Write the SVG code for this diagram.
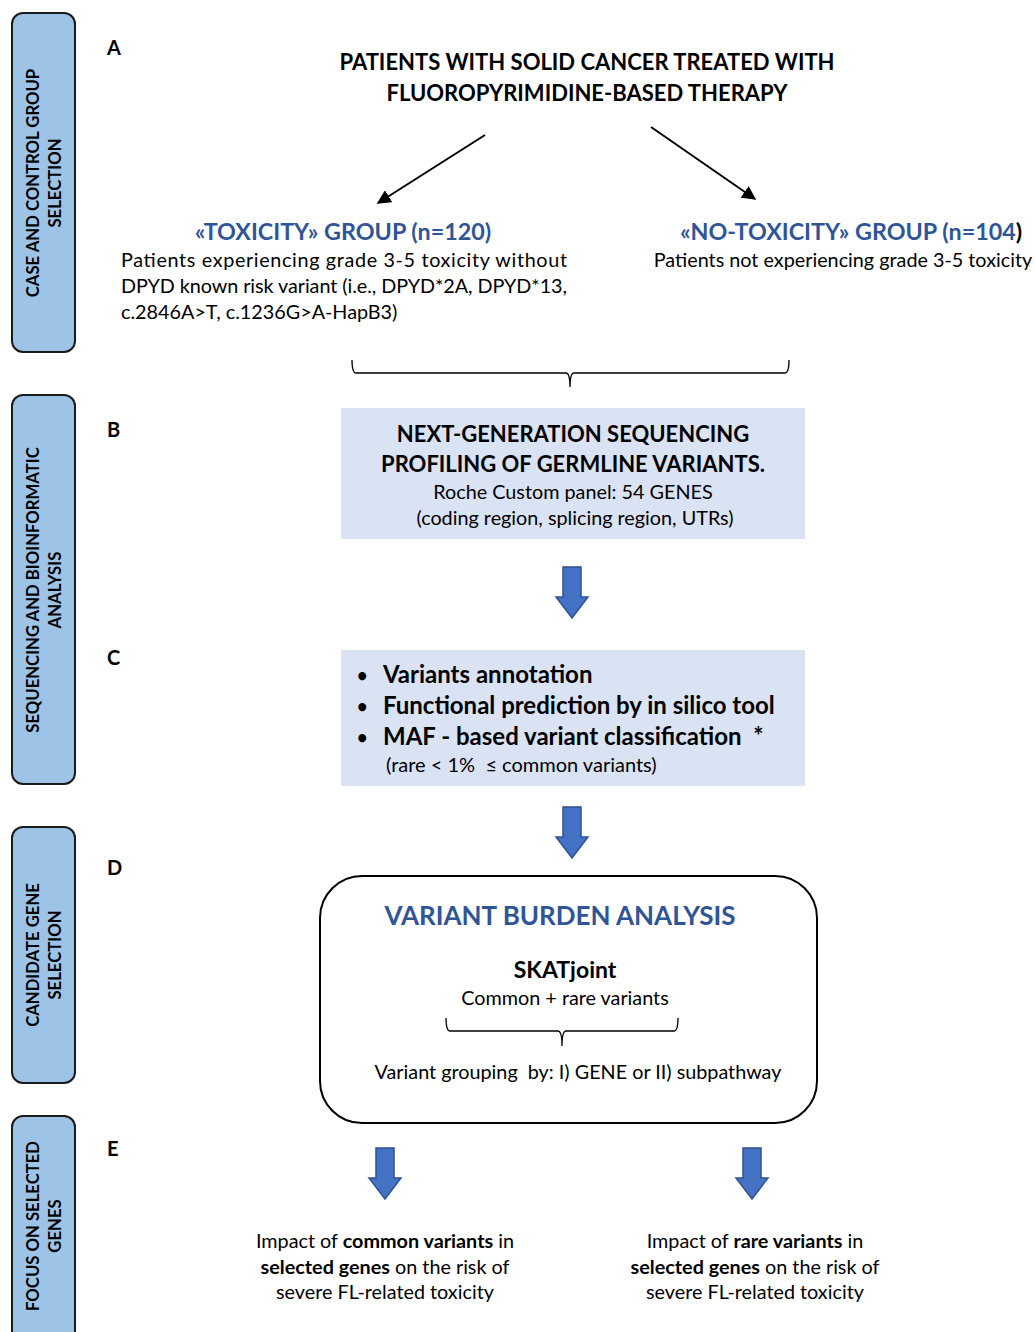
<svg xmlns="http://www.w3.org/2000/svg" width="1035" height="1332" viewBox="0 0 1035 1332">
<defs>
<style>
text{font-family:Lato,"Open Sans","Liberation Sans",sans-serif;fill:#000}
.side{fill:#9DC3E6;stroke:#1a1a1a;stroke-width:2}
.sl{font-size:16.7px;font-weight:700;text-anchor:middle}
.let{font-size:20px;font-weight:700}
.ttl{font-size:22px;font-weight:700;text-anchor:middle}
.blue{fill:#2F5597}
.grp{font-size:23.3px;font-weight:700;text-anchor:middle}
.body{font-size:19.8px}
.box{fill:#DAE3F3}
.bul{font-size:24px;font-weight:700}
.dot{font-size:18px;font-weight:700}
.mid{text-anchor:middle}
.barrow{fill:#4472C4;stroke:#2F528F;stroke-width:1.5}
.brace{fill:none;stroke:#000;stroke-width:1.3}
.ln{stroke:#000;stroke-width:2;fill:none}
</style>
<marker id="ah" viewBox="0 0 10 10" refX="9" refY="5" markerWidth="7" markerHeight="7" orient="auto" markerUnits="strokeWidth">
<path d="M0,0 L10,5 L0,10 z" fill="#000"/>
</marker>
<path id="blk" d="M-9,0 H9 V30 H16 L0,51 L-16,30 H-9 Z"/>
</defs>
<g id="side-A"><rect class="side" x="12" y="13" width="63" height="339" rx="11"/>
<text class="sl" transform="translate(39,183) rotate(-90)">CASE AND CONTROL GROUP</text>
<text class="sl" transform="translate(61,183) rotate(-90)">SELECTION</text></g>
<g id="side-B"><rect class="side" x="12" y="395" width="63" height="389" rx="11"/>
<text class="sl" transform="translate(39,590) rotate(-90)">SEQUENCING AND BIOINFORMATIC</text>
<text class="sl" transform="translate(61,590) rotate(-90)">ANALYSIS</text></g>
<g id="side-D"><rect class="side" x="12" y="827" width="63" height="256" rx="11"/>
<text class="sl" transform="translate(39,955) rotate(-90)">CANDIDATE GENE</text>
<text class="sl" transform="translate(61,955) rotate(-90)">SELECTION</text></g>
<g id="side-E"><rect class="side" x="12" y="1116" width="63" height="240" rx="11"/>
<text class="sl" transform="translate(39,1226) rotate(-90)">FOCUS ON SELECTED</text>
<text class="sl" transform="translate(61,1226) rotate(-90)">GENES</text></g>
<g id="letters">
<text class="let" x="107" y="55">A</text>
<text class="let" x="107" y="437">B</text>
<text class="let" x="107" y="665">C</text>
<text class="let" x="107" y="875">D</text>
<text class="let" x="107" y="1156">E</text>
</g>
<g id="title">
<text class="ttl" x="587" y="70">PATIENTS WITH SOLID CANCER TREATED WITH</text>
<text class="ttl" x="587" y="101">FLUOROPYRIMIDINE-BASED THERAPY</text>
</g>
<g id="toxicity">
<text class="grp blue" x="343" y="240">«TOXICITY» GROUP (n=120)</text>
<text class="body" x="121" y="267" textLength="446" lengthAdjust="spacing">Patients experiencing grade 3-5 toxicity without</text>
<text class="body" x="121" y="293" textLength="446" lengthAdjust="spacing">DPYD known risk variant (i.e., DPYD*2A, DPYD*13,</text>
<text class="body" x="121" y="319">c.2846A&gt;T, c.1236G&gt;A-HapB3)</text>
</g>
<g id="no-toxicity">
<text class="grp" x="851" y="240"><tspan class="blue">«NO-TOXICITY» GROUP (n=104</tspan>)</text>
<text class="body mid" x="843" y="267">Patients not experiencing grade 3-5 toxicity</text>
</g>
<g id="ngs">
<rect class="box" x="341" y="408" width="464" height="131"/>
<text class="ttl" x="573" y="442">NEXT-GENERATION SEQUENCING</text>
<text class="ttl" x="573" y="472">PROFILING OF GERMLINE VARIANTS.</text>
<text class="body mid" x="573" y="499">Roche Custom panel: 54 GENES</text>
<text class="body mid" x="575" y="525">(coding region, splicing region, UTRs)</text>
</g>
<g id="annotation">
<rect class="box" x="341" y="650" width="464" height="136"/>
<text class="dot" x="357" y="682">•</text><text class="bul" x="383" y="683">Variants annotation</text>
<text class="dot" x="357" y="713">•</text><text class="bul" x="383" y="714">Functional prediction by in silico tool</text>
<text class="dot" x="357" y="744">•</text><text class="bul" x="383" y="745">MAF - based variant classification&#160; *</text>
<text x="386" y="772" style="font-size:20px">(rare &lt; 1%&#160; ≤ common variants)</text>
</g>
<g id="burden">
<rect x="320" y="876" width="497" height="247" rx="42" fill="#fff" stroke="#000" stroke-width="2"/>
<text class="blue mid" x="560" y="925" style="font-size:26px;font-weight:700">VARIANT BURDEN ANALYSIS</text>
<text class="mid" x="565" y="978" style="font-size:23px;font-weight:700">SKATjoint</text>
<text class="body mid" x="565" y="1005">Common + rare variants</text>
<path class="brace" d="M446,1018 Q446,1031 450,1031 H558 Q562,1031 562,1046 Q562,1031 566,1031 H674 Q678,1031 678,1018"/>
<text class="body mid" x="578" y="1079">Variant grouping&#160; by: I) GENE or II) subpathway</text>
</g>
<g id="common">
<text class="body mid" x="385" y="1248">Impact of <tspan font-weight="700">common variants</tspan> in</text>
<text class="body mid" x="385" y="1274"><tspan font-weight="700">selected genes</tspan> on the risk of</text>
<text class="body mid" x="385" y="1299">severe FL-related toxicity</text>
</g>
<g id="rare">
<text class="body mid" x="755" y="1248">Impact of <tspan font-weight="700">rare variants</tspan> in</text>
<text class="body mid" x="755" y="1274"><tspan font-weight="700">selected genes</tspan> on the risk of</text>
<text class="body mid" x="755" y="1299">severe FL-related toxicity</text>
</g>
<g id="connectors">
<line class="ln" x1="485" y1="135" x2="378" y2="203" marker-end="url(#ah)"/>
<line class="ln" x1="651" y1="127" x2="755" y2="199" marker-end="url(#ah)"/>
<path class="brace" d="M352,360 Q352,373 356,373 H566 Q570,373 570,387 Q570,373 574,373 H785 Q789,373 789,360"/>
<use href="#blk" class="barrow" x="572" y="567"/>
<use href="#blk" class="barrow" x="572" y="807"/>
<use href="#blk" class="barrow" x="385" y="1148"/>
<use href="#blk" class="barrow" x="752" y="1148"/>
</g>
</svg>
